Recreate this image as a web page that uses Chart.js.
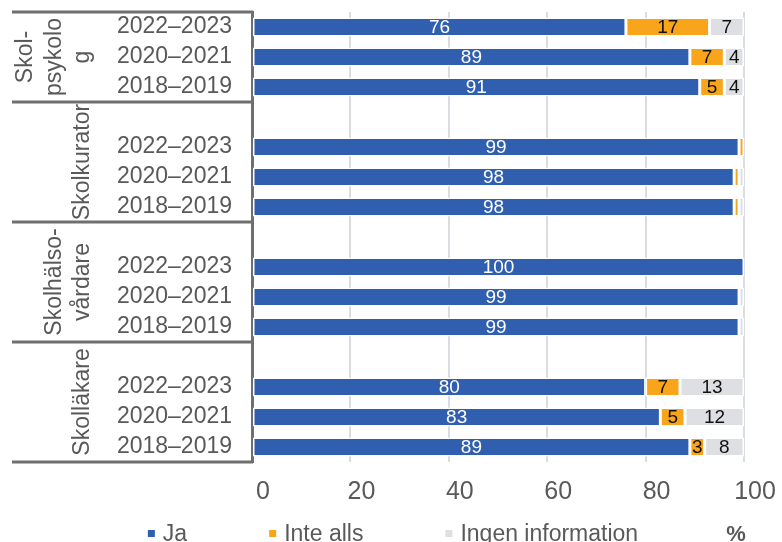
<!DOCTYPE html>
<html>
<head>
<meta charset="utf-8">
<script src="https://cdn.jsdelivr.net/npm/chart.js@4.4.1/dist/chart.umd.min.js"></script>
<style>
  html, body { margin: 0; padding: 0; background: #fff; }
  #wrap { width: 782px; height: 542px; }
</style>
</head>
<body>
<div id="wrap"><canvas id="chart" width="782" height="542"></canvas></div>
<script>
// rows of the chart, '' is the empty row between two groups
const rowLabels = ['2022–2023', '2020–2021', '2018–2019', '',
                   '2022–2023', '2020–2021', '2018–2019', '',
                   '2022–2023', '2020–2021', '2018–2019', '',
                   '2022–2023', '2020–2021', '2018–2019'];
const groupLabels = ['Skol-\npsykolo\ng', 'Skolkurator', 'Skolhälso-\nvårdare', 'Skolläkare'];
const seriesNames = ['Ja', 'Inte alls', 'Ingen information'];

const jaValues       = [76, 89, 91, null, 99, 98, 98, null, 100, 99, 99, null, 80, 83, 89];
const inteAllsValues = [17,  7,  5, null,  1,  1,  1, null,   0,  0,  0, null,  7,  5,  3];
const ingenValues    = [ 7,  4,  4, null,  0,  1,  1, null,   0,  1,  1, null, 13, 12,  8];

const xTicks = [0, 20, 40, 60, 80, 100];
const unitLabel = '%';

const FONT = "'Liberation Sans', Arial, sans-serif";
const TEXT = '#595959';
const LINE = '#6f6f6f';
const colors = ['#2f5fae', '#f9a51b', '#dddfe2'];
const labelColors = ['#ffffff', '#111111', '#111111'];

// values in the bars
const barLabels = {
  id: 'barLabels',
  afterDatasetsDraw(chart) {
    const ctx = chart.ctx;
    ctx.save();
    ctx.font = '19px ' + FONT;
    ctx.textAlign = 'center';
    ctx.textBaseline = 'middle';
    chart.data.datasets.forEach((ds, di) => {
      const meta = chart.getDatasetMeta(di);
      meta.data.forEach((bar, i) => {
        const v = ds.data[i];
        if (v == null || v < 2) return;
        const p = bar.getProps(['x', 'y', 'base'], true);
        ctx.fillStyle = labelColors[di];
        ctx.fillText(String(v), (p.x + p.base) / 2, p.y + 1);
      });
    });
    ctx.restore();
  }
};

// group names, frame lines, legend and unit
const extras = {
  id: 'extras',
  afterDraw(chart) {
    const ctx = chart.ctx;
    const y = chart.scales.y;
    const n = rowLabels.length;
    const rowH = y.getPixelForValue(1) - y.getPixelForValue(0);
    const spacers = [];
    rowLabels.forEach((l, i) => { if (l === '') spacers.push(i); });

    ctx.save();
    ctx.strokeStyle = LINE;
    ctx.lineWidth = 3;
    const top = y.getPixelForValue(0) - rowH / 2;
    ctx.beginPath();
    ctx.moveTo(12, top);
    ctx.lineTo(y.right + 1, top);
    ctx.stroke();

    groupLabels.forEach((name, g) => {
      const first = g === 0 ? 0 : spacers[g - 1];
      const last = g < spacers.length ? spacers[g] - 1 : n - 1;
      const bTop = y.getPixelForValue(first) - rowH / 2;
      const bBot = y.getPixelForValue(last) + rowH / 2;
      ctx.strokeStyle = LINE;
      ctx.beginPath();
      ctx.moveTo(12, bBot);
      ctx.lineTo(y.right + 1, bBot);
      ctx.stroke();

      const lines = name.split('\n');
      const mid = (bTop + bBot) / 2;
      ctx.save();
      ctx.font = '23px ' + FONT;
      ctx.fillStyle = TEXT;
      ctx.textAlign = 'center';
      ctx.textBaseline = 'middle';
      lines.forEach((t, k) => {
        const cx = 83 - (lines.length - 1 - k) * 28.5;
        ctx.save();
        ctx.translate(cx, mid);
        ctx.rotate(-Math.PI / 2);
        ctx.fillText(t, 0, 0);
        ctx.restore();
      });
      ctx.restore();
    });

    // legend
    ctx.font = '23px ' + FONT;
    ctx.textBaseline = 'alphabetic';
    ctx.textAlign = 'left';
    const gap = 82;
    const widths = seriesNames.map(s => 15 + ctx.measureText(s).width);
    const total = widths.reduce((a, b) => a + b, 0) + gap * (widths.length - 1);
    let lx = (chart.width - total) / 2 + 2;
    const ly = 541;
    seriesNames.forEach((s, i) => {
      ctx.fillStyle = colors[i];
      ctx.fillRect(lx, 530, 7, 7);
      ctx.fillStyle = TEXT;
      ctx.fillText(s, lx + 15, ly);
      lx += widths[i] + gap;
    });
    ctx.font = 'bold 22px ' + FONT;
    ctx.textAlign = 'center';
    ctx.fillText(unitLabel, 736, ly);
    ctx.restore();
  }
};

function makeSet(i, values) {
  return {
    label: seriesNames[i],
    data: values,
    backgroundColor: colors[i],
    borderColor: '#ffffff',
    borderWidth: 1.5,
    borderSkipped: false,
    barPercentage: 0.64,
    categoryPercentage: 1
  };
}

new Chart(document.getElementById('chart'), {
  type: 'bar',
  data: {
    labels: rowLabels,
    datasets: [makeSet(0, jaValues), makeSet(1, inteAllsValues), makeSet(2, ingenValues)]
  },
  options: {
    indexAxis: 'y',
    responsive: false,
    animation: false,
    layout: { padding: { top: 12, right: 38, bottom: 35, left: 0 } },
    plugins: {
      legend: { display: false },
      tooltip: { enabled: false }
    },
    scales: {
      x: {
        stacked: true,
        min: 0,
        max: 100,
        afterBuildTicks: (axis) => { axis.ticks = xTicks.map(v => ({ value: v })); },
        afterFit: (axis) => { axis.height = 45; axis.paddingLeft = 0; axis.paddingRight = 0; },
        grid: { color: '#d9dde2', lineWidth: 2, drawTicks: false },
        border: { display: false },
        ticks: {
          color: TEXT,
          font: { family: FONT, size: 25 },
          padding: 15,
          labelOffset: 11,
          maxRotation: 0
        }
      },
      y: {
        stacked: true,
        afterFit: (axis) => { axis.width = 252; axis.paddingTop = 0; axis.paddingBottom = 0; },
        grid: { display: false, drawTicks: false },
        border: { display: true, color: LINE, width: 3 },
        ticks: {
          color: TEXT,
          font: { family: FONT, size: 23 },
          padding: 20,
          autoSkip: false
        }
      }
    }
  },
  plugins: [barLabels, extras]
});
</script>
</body>
</html>
